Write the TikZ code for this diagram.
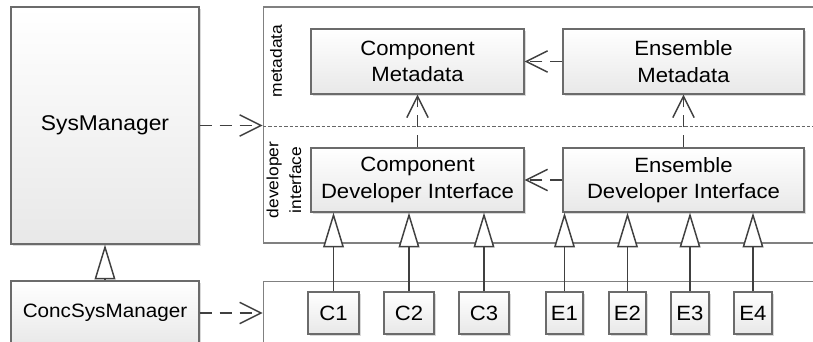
\documentclass[tikz,border=0pt]{standalone}
\usepackage{fontspec}
\setmainfont{Liberation Sans}[FakeStretch=1.07]
\usetikzlibrary{arrows.meta,shadows}

\begin{document}
\begin{tikzpicture}[x=0.75pt,y=0.75pt,yscale=-1,xscale=1,
  cls/.style={draw=black!58, line width=0.9pt, top color=white, bottom color=black!9, inner sep=0pt, align=center, font=\fontsize{15.5}{20}\selectfont, drop shadow={shadow xshift=1.5pt, shadow yshift=-1.5pt, opacity=0.15, fill=black}},
  pkg/.style={draw=black!50, line width=0.9pt, fill=white, inner sep=0pt},
  lane/.style={rotate=90, align=center, inner sep=0pt, font=\fontsize{12.2}{17}\selectfont},
  dep/.style={draw=black!75, line width=1.1pt, dash pattern=on 9pt off 6pt, -{Straight Barb[length=16pt,width=16pt]}},
  gen/.style={draw=black!75, line width=1.1pt, -{Triangle[open,length=26pt,width=15.5pt,fill=white]}}
]
\useasboundingbox (0,0) rectangle (813,342);
\clip (0,0) rectangle (813,342);

%Shape: Frames (open to the right and bottom)
\node[pkg, minimum width=425pt, minimum height=177pt] (upper) at (546.5,125) {};
\node[pkg, minimum width=425pt, minimum height=59pt] (lower) at (546.5,320.5) {};
%Dashed separator between the lanes
\draw[black!60, line width=0.6pt, dash pattern=on 2.5pt off 1.5pt] (263,126) -- (813,126);

% Text Node
\node[lane] (lmeta) at (276,61) {metadata};
% Text Node
\node[lane] (ldev) at (284,180) {developer\\interface};

%Shape: Managers
\node[cls, minimum width=141pt, minimum height=177.75pt, font=\fontsize{16}{20}\selectfont] (sys) at (105,125.5) {SysManager};
\node[cls, minimum width=141pt, minimum height=48pt, font=\fontsize{14.5}{20}\selectfont] (conc) at (105,313) {ConcSysManager};

%Shape: Interfaces and metadata
\node[cls, minimum width=159.75pt, minimum height=48.75pt] (cmeta) at (417.5,61.5) {Component\\Metadata};
\node[cls, minimum width=159.75pt, minimum height=48pt] (cdev) at (417.5,180) {Component\\Developer Interface};
\node[cls, minimum width=180.75pt, minimum height=48.75pt] (emeta) at (683.5,61.5) {Ensemble\\Metadata};
\node[cls, minimum width=180.75pt, minimum height=48pt] (edev) at (683.5,180) {Ensemble\\Developer Interface};

%Shape: Implementations
\node[cls, minimum width=38.25pt, minimum height=31.5pt] (c1) at (333.5,313) {C1};
\node[cls, minimum width=37.5pt, minimum height=31.5pt] (c2) at (409,313) {C2};
\node[cls, minimum width=37.5pt, minimum height=31.5pt] (c3) at (484,313) {C3};
\node[cls, minimum width=27.75pt, minimum height=31.5pt] (e1) at (564.5,313) {E1};
\node[cls, minimum width=27.75pt, minimum height=31.5pt] (e2) at (627.5,313) {E2};
\node[cls, minimum width=28.5pt, minimum height=31.5pt] (e3) at (690,313) {E3};
\node[cls, minimum width=28.5pt, minimum height=31.5pt] (e4) at (753,313) {E4};

%Straight Lines: generalisation
\draw[gen] (conc.north) -- (sys.south);
\foreach \n in {c1,c2,c3}
  \draw[gen] (\n.north) -- (\n.north |- cdev.south);
\foreach \n in {e1,e2,e3,e4}
  \draw[gen] (\n.north) -- (\n.north |- edev.south);

%Straight Lines: dependencies
\draw[dep] (sys.east) -- (sys.east -| upper.west);
\draw[dep] (conc.east) -- (conc.east -| lower.west);
\draw[dep] (cdev.north) -- (cmeta.south);
\draw[dep] (edev.north) -- (emeta.south);
\draw[dep] (emeta.west) -- (cmeta.east);
\draw[dep] (edev.west) -- (cdev.east);

\end{tikzpicture}
\end{document}
